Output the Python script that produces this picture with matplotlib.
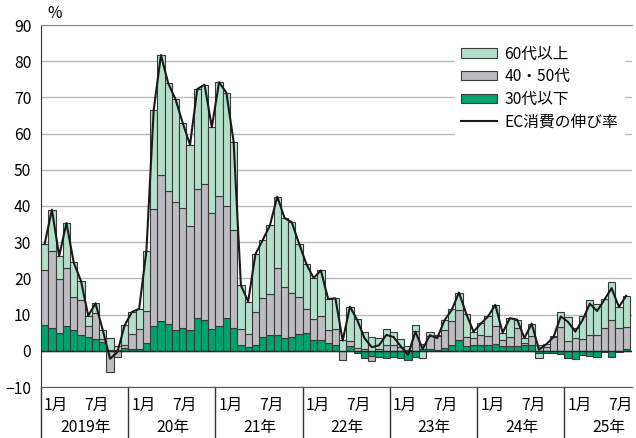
import numpy as np
import matplotlib
matplotlib.use("Agg")
import matplotlib.pyplot as plt
from matplotlib.patches import Patch
from matplotlib.lines import Line2D
import matplotlib.transforms as mtransforms

plt.rcParams['font.family'] = ['Noto Sans CJK JP', 'DejaVu Sans']

# monthly contributions (%pt), Jan 2019 - Sep 2025
young = [7.0, 6.2, 4.9, 6.8, 5.7, 4.5, 3.9, 3.2, 2.4, 0.3, 0.3, 0.7,
         0.5, 0.5, 2.1, 6.9, 8.3, 7.5, 5.7, 6.2, 5.8, 9.0, 8.5, 6.0,
         6.8, 9.0, 6.3, 1.7, 1.0, 1.7, 3.8, 4.3, 4.3, 3.6, 3.8, 4.6,
         5.0, 2.9, 2.9, 2.1, 1.5, 0.0, 1.2, -0.6, -2.0, -1.5, -1.7, -2.0,
         -1.8, -2.0, -2.5, -1.8, 0.5, 0.5, 0.2, 0.9, 1.5, 2.9, 1.2, 1.7,
         1.7, 1.7, 1.9, 1.2, 1.2, 1.4, 1.7, 1.6, -0.5, -0.6, -0.6, -1.0,
         -2.0, -2.3, -1.1, -1.4, -1.6, -0.3, -1.6, -0.2, 0.6]
middle = [15.3, 21.3, 14.9, 16.0, 9.3, 9.6, 3.0, 7.2, 0.9, -5.8, -1.6, 1.0,
          4.1, 5.6, 9.0, 32.3, 40.4, 36.7, 35.5, 33.2, 28.7, 35.7, 37.5, 32.2,
          36.1, 31.0, 27.2, 4.3, 3.7, 9.0, 10.8, 11.4, 18.5, 14.0, 12.1, 10.2,
          6.5, 5.8, 6.8, 3.7, 4.5, -2.5, 1.6, 0.9, 0.6, -1.4, 0.5, 1.5,
          1.7, 1.0, 0.3, 5.5, 1.5, 3.5, 3.8, 4.9, 6.6, 8.4, 2.6, 1.8,
          2.7, 2.4, 5.0, 1.7, 2.6, 4.9, 0.4, 2.4, 1.5, 1.0, 3.8, 6.7,
          2.8, 3.5, 3.2, 4.4, 4.4, 6.4, 8.4, 6.3, 5.9]
senior = [7.2, 11.5, 6.4, 12.5, 9.4, 5.2, 2.8, 2.7, 2.4, 3.3, 0.9, 5.3,
          6.1, 5.5, 16.5, 27.3, 33.0, 29.7, 28.3, 23.5, 22.4, 27.6, 27.5, 23.6,
          31.3, 31.3, 24.2, 12.1, 8.9, 16.0, 16.0, 19.0, 19.8, 19.1, 19.6, 14.8,
          12.5, 11.4, 12.5, 8.5, 8.5, 3.0, 9.4, 7.8, 4.7, 3.8, 3.0, 4.6,
          3.6, 2.2, 0.9, 1.7, -2.0, 1.3, 0.5, 2.6, 3.4, 4.8, 6.4, 1.8,
          3.4, 5.4, 5.8, 2.0, 5.2, 2.3, 1.4, 3.5, -1.5, 1.0, 0.4, 4.0,
          6.5, 2.8, 6.5, 9.7, 8.5, 7.9, 10.6, 5.9, 8.7]
ec_growth = [29.5, 39.0, 26.2, 35.3, 24.4, 19.3, 9.7, 13.1, 5.7, -2.2, -0.4, 7.0,
             10.7, 11.6, 27.6, 66.5, 81.7, 73.9, 69.5, 62.9, 56.9, 72.3, 73.5, 61.8,
             74.2, 71.3, 57.7, 18.1, 13.6, 26.7, 30.6, 34.7, 42.6, 36.7, 35.5, 29.6,
             24.0, 20.1, 22.2, 14.3, 14.5, 2.8, 12.2, 8.5, 3.5, 1.0, 1.5, 4.4,
             3.8, 1.2, -1.1, 5.3, 0.5, 4.3, 3.5, 8.4, 11.3, 16.1, 10.2, 5.3,
             7.5, 9.5, 12.7, 5.0, 9.0, 8.6, 3.5, 7.5, 0.3, 1.8, 3.8, 9.5,
             8.0, 5.3, 8.5, 13.0, 11.0, 14.1, 17.3, 12.1, 15.2]
years = ['2019年', '20年', '21年', '22年', '23年', '24年', '25年']

c_young = '#00a36c'
c_middle = '#bcbcc1'
c_senior = '#b3dfcb'
edge = '#3a3a3a'
fs = 11.3

fig = plt.figure(figsize=(6.36, 4.38), dpi=100)
ax = fig.add_axes([41 / 636, 51 / 438, 591 / 636, 362 / 438])

x = np.arange(len(ec_growth))
pos_base = np.zeros(len(x))
neg_base = np.zeros(len(x))
for vals, col in [(young, c_young), (middle, c_middle), (senior, c_senior)]:
    v = np.array(vals)
    bottom = np.where(v >= 0, pos_base, neg_base)
    ax.bar(x, v, bottom=bottom, width=1.0, color=col, edgecolor=edge,
           linewidth=0.8, zorder=2)
    pos_base += np.clip(v, 0, None)
    neg_base += np.clip(v, None, 0)

ax.plot(x, ec_growth, color='#1a1a1a', lw=1.5, zorder=4)
ax.axhline(0, color='#222222', lw=1.0, zorder=3)

ax.set_xlim(-0.5, 80.8)
ax.set_ylim(-10, 90)
ax.set_yticks(range(-10, 91, 10))
ax.tick_params(axis='y', length=0, pad=7, labelsize=fs)
ax.set_xticks([])
ax.yaxis.grid(True, color='#b8b8b8', lw=1.0)
ax.set_axisbelow(True)
ax.spines['right'].set_visible(False)
ax.spines['top'].set_color('#8a8a8a')
ax.spines['bottom'].set_color('#555555')
ax.spines['left'].set_color('#333333')

fig.text(47 / 636, 1 - 13 / 438, '%', fontsize=fs, ha='left', va='center')

# x labels
trans = mtransforms.blended_transform_factory(ax.transData, ax.transAxes)
for i, yl in enumerate(years):
    ax.text(i * 12 + 1.6, -0.05, '1月', transform=trans, ha='center', va='center', fontsize=fs)
    if i * 12 + 6 < len(x):
        ax.text(i * 12 + 7.2, -0.05, '7月', transform=trans, ha='center', va='center', fontsize=fs)
    ax.text(i * 12 + 5.6, -0.112, yl, transform=trans, ha='center', va='center', fontsize=fs)
    ax.plot([i * 12 - 0.5, i * 12 - 0.5], [0, -0.15], transform=trans, color='#333333',
            lw=1.0, clip_on=False)

handles = [Patch(facecolor=c_senior, edgecolor=edge, lw=0.8),
           Patch(facecolor=c_middle, edgecolor=edge, lw=0.8),
           Patch(facecolor=c_young, edgecolor=edge, lw=0.8),
           Line2D([], [], color='#1a1a1a', lw=1.5)]
labels = ['60代以上', '40・50代', '30代以下', 'EC消費の伸び率']
leg = ax.legend(handles, labels, loc='upper right', bbox_to_anchor=(1.0, 0.982),
                fontsize=fs, frameon=True, facecolor='white', edgecolor='white',
                framealpha=1, fancybox=False, handlelength=2.3, handleheight=0.55,
                handletextpad=0.45, labelspacing=0.36, borderpad=0.4)
leg.set_zorder(5)

fig.savefig('out.png', dpi=100)
